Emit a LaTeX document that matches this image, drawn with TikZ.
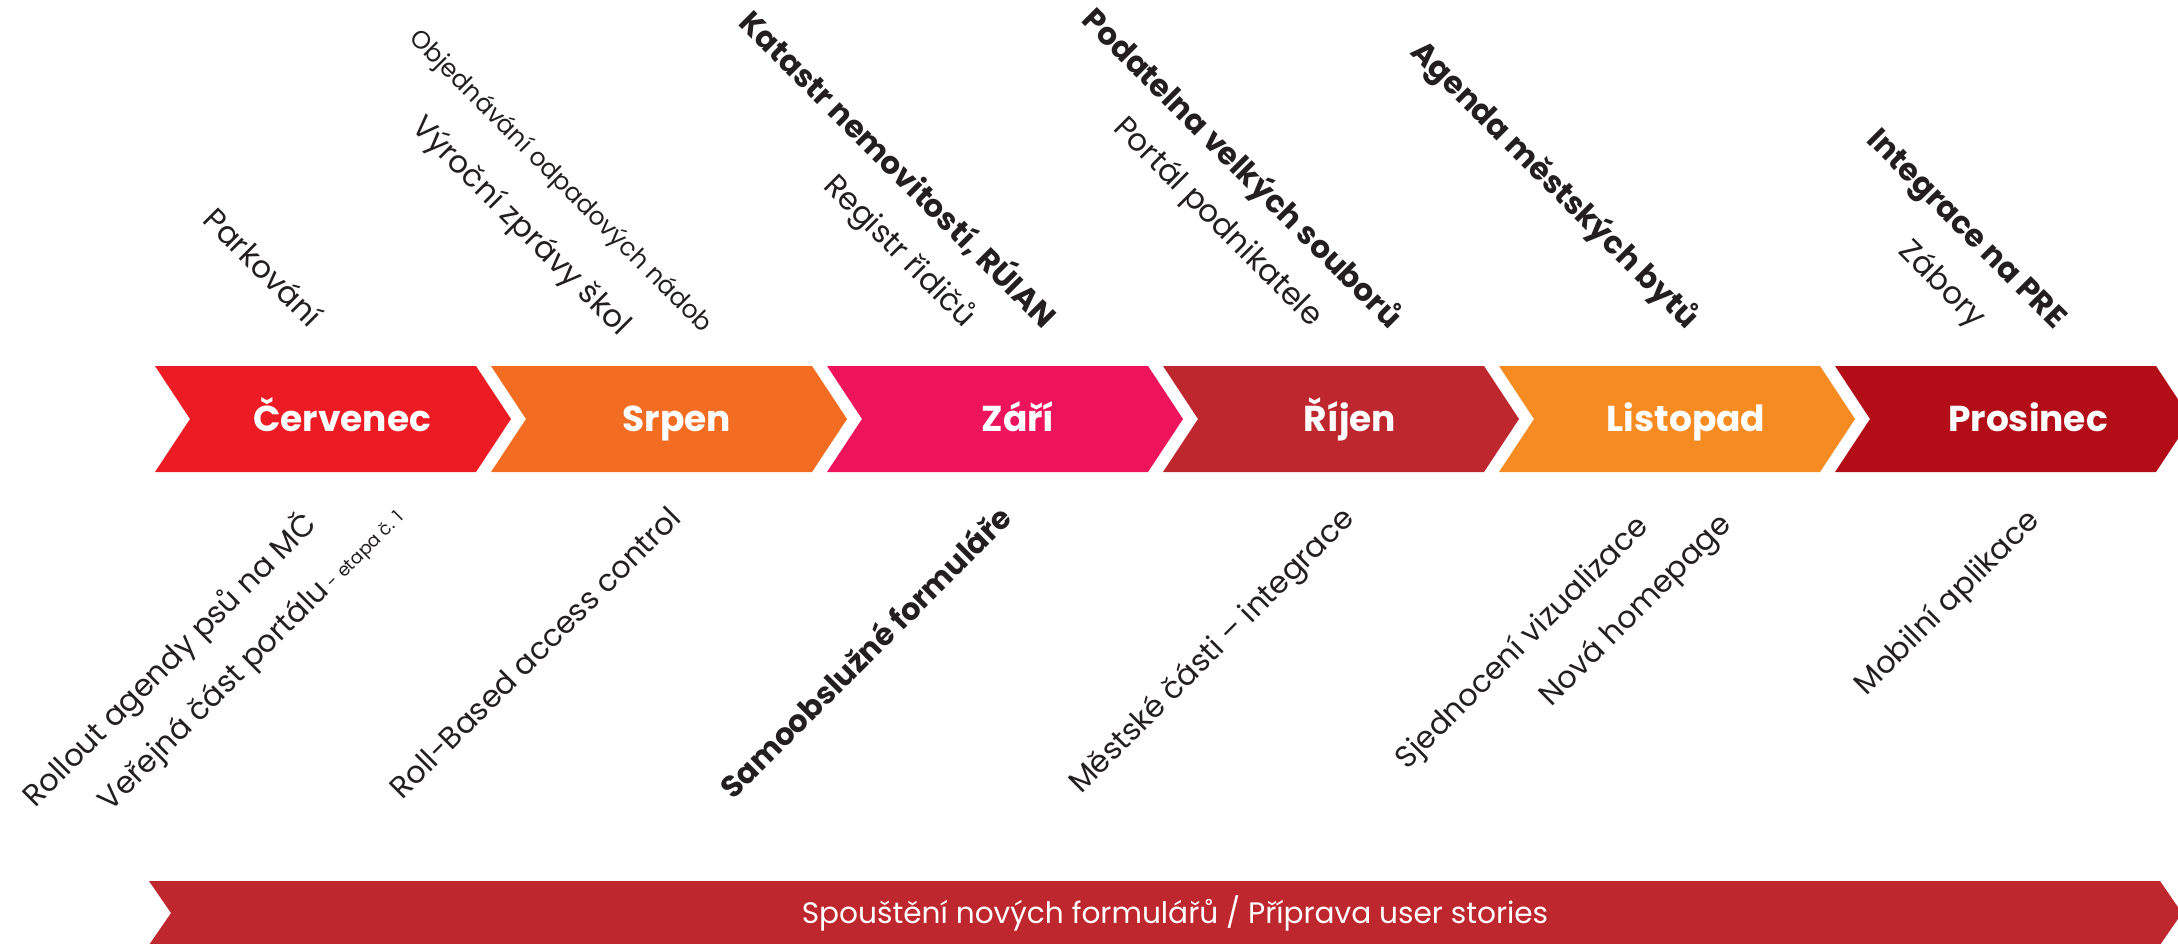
\documentclass[tikz,border=0pt]{standalone}
\usepackage{fontspec}
\setmainfont{Poppins}
\usepackage{tikz}
\definecolor{cervenec}{HTML}{ED1C24}
\definecolor{srpen}{HTML}{F26C22}
\definecolor{zari}{HTML}{ED145B}
\definecolor{rijen}{HTML}{BE272E}
\definecolor{listopad}{HTML}{F68B21}
\definecolor{prosinec}{HTML}{B30E18}
\definecolor{ink}{HTML}{231F20}
\newcommand{\chev}[2]{\fill[#2] (#1,366) -- ++(321,0) -- ++(35,53) -- ++(-35,53) -- ++(-321,0) -- ++(35,-53) -- cycle;}
\tikzset{
  month/.style={text=white, anchor=base, inner sep=0pt, font=\bfseries\fontsize{36}{40}\selectfont},
  above/.style={text=ink, rotate=-45, anchor=base east, inner sep=0pt, font=\fontsize{31}{35}\selectfont},
  below/.style={text=ink, rotate=45, anchor=base east, inner sep=0pt, font=\fontsize{30.5}{35}\selectfont},
  strong/.style={font=\bfseries\fontsize{31}{35}\selectfont},
  barlabel/.style={text=white, anchor=base, inner sep=0pt, font=\fontsize{29.6}{33}\selectfont}
}

\begin{document}
\begin{tikzpicture}[x=1pt, y=-1pt]
    \useasboundingbox (0,0) rectangle (2178,943);
    % First, the six months as chevrons
    \chev{155}{cervenec}
    \chev{491}{srpen}
    \chev{827}{zari}
    \chev{1163}{rijen}
    \chev{1499}{listopad}
    \chev{1835}{prosinec}
    \node[month] (cervenec) at (342,431) {Červenec};
    \node[month] (srpen) at (677,431) {Srpen};
    \node[month] (zari) at (1018,431) {Září};
    \node[month] (rijen) at (1350,431) {Říjen};
    \node[month] (listopad) at (1686,431) {Listopad};
    \node[month] (prosinec) at (2028,431) {Prosinec};
    % Now the items above the months
    \node[above] (parkovani) at (309,329) {Parkování};
    \node[above, font=\fontsize{25}{29}\selectfont] (objednavani) at (703,334) {Objednávání odpadových nádob};
    \node[above] (vyrocni) at (619,337) {Výroční zprávy škol};
    \node[above, strong] (katastr) at (1043,330) {Katastr nemovitostí, RÚIAN};
    \node[above] (registr) at (964,329) {Registr řidičů};
    \node[above, strong] (podatelna) at (1389,330) {Podatelna velkých souborů};
    \node[above] (portal) at (1311,328) {Portál podnikatele};
    \node[above, strong] (agenda) at (1686,330) {Agenda městských bytů};
    \node[above, strong] (integrace) at (2054,330) {Integrace na PRE};
    \node[above] (zabory) at (1974,329) {Zábory};
    % and the items below them
    \node[below] (rollout) at (318,526) {Rollout agendy psů na MČ};
    \node[below] (verejna) at (405,518) {Veřejná část portálu{\fontsize{18}{20}\selectfont\ - etapa č. 1}};
    \node[below] (rbac) at (683,520) {Roll-Based access control};
    \node[below, strong, font=\bfseries\fontsize{30.5}{35}\selectfont] (formulare) at (1014,520) {Samoobslužné formuláře};
    \node[below] (mestske) at (1356,520) {Městské části – integrace};
    \node[below] (sjednoceni) at (1650,528) {Sjednocení vizualizace};
    \node[below] (homepage) at (1733,526) {Nová homepage};
    \node[below] (mobilni) at (2041,522) {Mobilní aplikace};
    % The long bar at the bottom
    \fill[rijen] (149,881) -- (2160,881) -- (2182,913) -- (2160,945) -- (149,945) -- (171,913) -- cycle;
    \node[barlabel] (stories) at (1175,923) {Spouštění nových formulářů / Příprava user stories};
\end{tikzpicture}
\end{document}
